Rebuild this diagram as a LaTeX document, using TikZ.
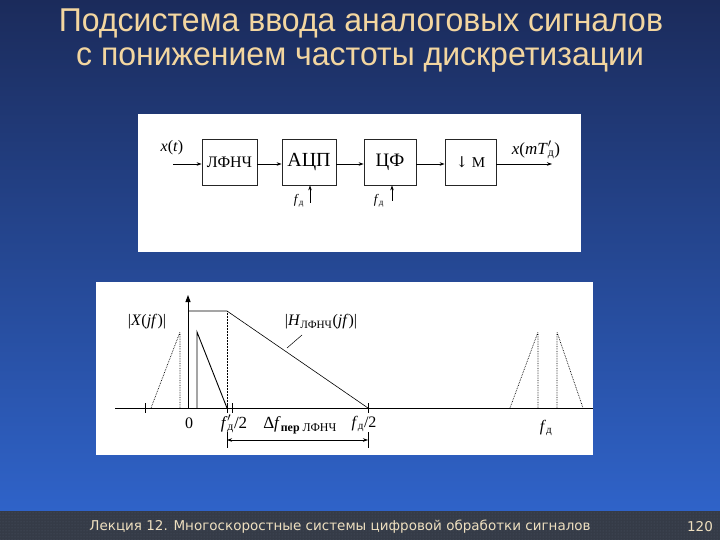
\documentclass[tikz,border=0pt]{standalone}
\usepackage{fontspec}
\setmainfont{Liberation Serif}
\newfontfamily\titlefont[FakeStretch=0.97]{Liberation Sans}
\newfontfamily\footfont{DejaVu Sans}
\newfontfamily\symfont{DejaVu Serif}
\usetikzlibrary{arrows.meta,patterns}
\definecolor{bgtop}{HTML}{1B2B5B}
\definecolor{bgbot}{HTML}{2F63C9}
\definecolor{titlecol}{HTML}{F3D6A0}
\definecolor{footbg}{HTML}{353B47}
\definecolor{footdot}{HTML}{4C5566}
\definecolor{footcol}{HTML}{EFE0C0}
\newcommand{\fsz}[1]{\fontsize{#1}{#1}\selectfont}
\begin{document}
\begin{tikzpicture}[x=1pt,y=-1pt,
  blk/.style={draw=black!85, line width=0.8pt, fill=white, minimum height=46pt, inner sep=0pt},
  sig/.style={-{Stealth[length=5pt,width=3.5pt]}, line width=0.6pt},
  dotl/.style={densely dotted, line width=0.7pt},
  axis/.style={line width=0.9pt},
  tick/.style={line width=0.6pt},
  lbl/.style={inner sep=0pt, text=black},
  ttl/.style={inner sep=0pt, text=titlecol, font=\titlefont\fsz{33}},
  foot/.style={inner sep=0pt, text=footcol, font=\footfont\fsz{13.5}}]
\useasboundingbox (0,0) rectangle (720,540);
% background
\shade[top color=bgtop, bottom color=bgbot] (0,0) rectangle (720,512);
\fill[footbg] (0,511) rectangle (720,540);
\fill[pattern=dots, pattern color=footdot] (0,511) rectangle (720,540);
% title
\node[ttl] (t1) at (361,23) {Подсистема ввода аналоговых сигналов};
\node[ttl] (t2) at (360,60) {с понижением частоты дискретизации};
% footer
\node[foot] (ft) at (340,527) {Лекция 12. Многоскоростные системы цифровой обработки сигналов};
\node[foot] (pg) at (700,527) {120};
% panels
\fill[white] (138,114) rectangle (581,252);
\fill[white] (96,282) rectangle (593,455);
% block diagram
\node[blk, minimum width=55pt] (b1) at (229.5,162) {\fsz{16}ЛФНЧ};
\node[blk, minimum width=54pt] (b2) at (309,162) {\fsz{20}АЦП};
\node[blk, minimum width=52pt] (b3) at (390,162) {\fsz{19}ЦФ};
\node[blk, minimum width=51pt] (b4) at (470.5,162.5) {\fsz{15}{\symfont↓} M};
\coordinate (in) at (173,164);
\coordinate (out) at (552,164);
\draw[sig] (in) -- (in -| b1.west);
\draw[sig] (b1.east |- in) -- (b2.west |- in);
\draw[sig] (b2.east |- in) -- (b3.west |- in);
\draw[sig] (b3.east |- in) -- (b4.west |- in);
\draw[sig] (b4.east |- in) -- (out);
\node[lbl] (xt) at (172,148) {\fsz{16}\textit{x}(\textit{t})};
\node[lbl] (xm) at (536,150) {\fsz{17}\textit{x}(\textit{mT}\rlap{$'$}\textsubscript{д})};
\coordinate (c1) at (310,203);
\coordinate (c2) at (392,201);
\draw[sig] (c1) -- (c1 |- b2.south);
\draw[sig] (c2) -- (c2 |- b3.south);
\node[lbl] (f1) at (299,201) {\fsz{13}\textit{f}\textsubscript{д}};
\node[lbl] (f2) at (379,201) {\fsz{13}\textit{f}\textsubscript{д}};
% spectrum graph
\draw[axis] (115,408) -- (593,408);
\draw[axis, -{Triangle[length=7pt,width=5pt]}] (188,408) -- (188,295);
\draw[line width=0.6pt] (188,311) -- (227,311) -- (368,408);
\draw[densely dotted, line width=0.5pt] (227,311) -- (227,408);
\draw[line width=0.9pt] (197,408) -- (197,332) -- (227,408);
\draw[dotl] (180,408) -- (180,332) -- (151,408);
\draw[dotl] (538,408) -- (538,332) -- (510,408);
\draw[dotl] (557,408) -- (557,332) -- (583,408);
\foreach \x in {145,227,232,368} \draw[tick] (\x,403) -- (\x,413);
\draw[tick] (227,432) -- (227,448);
\draw[tick] (368,432) -- (368,448);
\draw[line width=0.6pt, {Stealth[length=5pt,width=3.5pt]}-{Stealth[length=5pt,width=3.5pt]}] (227,440) -- (368,440);
\draw[line width=0.5pt] (287,348) -- (302,335);
\node[lbl] (lx) at (147,322) {\fsz{16}|\textit{X}(\textit{jf})|};
\node[lbl] (lh) at (321,322) {\fsz{16}|\textit{H}\textsubscript{ЛФНЧ}(\textit{jf})|};
\node[lbl] (l0) at (189,423) {\fsz{16}0};
\node[lbl] (l1) at (234,424) {\fsz{17}\textit{f}\rlap{$'$}\textsubscript{д}/2};
\node[lbl] (l2) at (300,425) {\fsz{17}Δ\textit{f}\textsubscript{\textbf{пер} ЛФНЧ}};
\node[lbl] (l3) at (364,424) {\fsz{16}\textit{f}\textsubscript{д}/2};
\node[lbl] (l4) at (546,428) {\fsz{16}\textit{f}\textsubscript{д}};
\end{tikzpicture}
\end{document}
